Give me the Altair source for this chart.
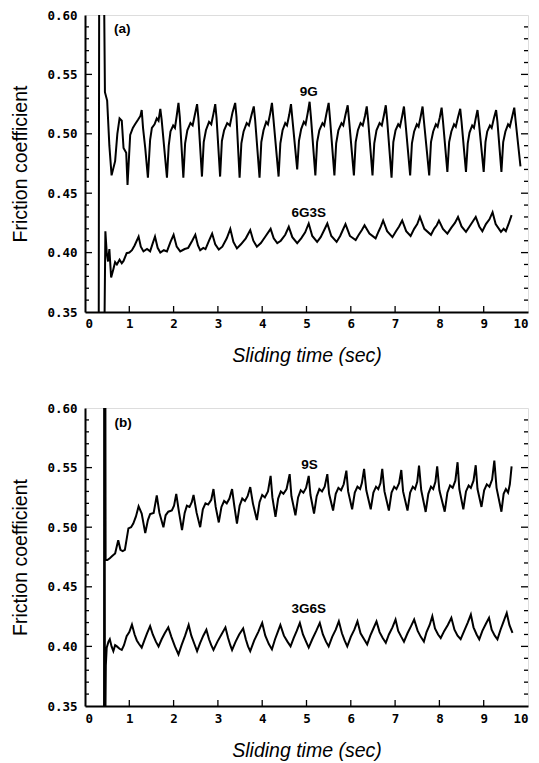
import altair as alt
import pandas as pd

# ---------------- data ----------------
# Panel (a): 9G
t_9G = [0.31, 0.32, 0.43, 0.45, 0.50, 0.55, 0.60, 0.68, 0.73, 0.78, 0.83, 0.87, 0.93, 0.96, 1.02, 1.08, 1.13, 1.20, 1.25, 1.28, 1.31, 1.36, 1.42,
        1.47, 1.51, 1.57, 1.62, 1.66, 1.70, 1.73, 1.85,
        1.89, 1.93, 1.99, 2.03, 2.07, 2.11, 2.14, 2.22,
        2.26, 2.31, 2.38, 2.43, 2.48, 2.53, 2.56, 2.64,
        2.68, 2.73, 2.80, 2.85, 2.90, 2.94, 2.97, 3.05,
        3.09, 3.14, 3.21, 3.27, 3.33, 3.39, 3.42, 3.49,
        3.53, 3.58, 3.65, 3.70, 3.76, 3.81, 3.84, 3.94,
        3.98, 4.03, 4.09, 4.13, 4.18, 4.22, 4.25, 4.37,
        4.41, 4.46, 4.52, 4.56, 4.61, 4.65, 4.68, 4.79,
        4.83, 4.88, 4.94, 4.98, 5.03, 5.07, 5.10, 5.20,
        5.24, 5.29, 5.36, 5.40, 5.45, 5.50, 5.53, 5.63,
        5.67, 5.72, 5.79, 5.83, 5.88, 5.93, 5.96, 6.07,
        6.11, 6.16, 6.22, 6.27, 6.32, 6.36, 6.39, 6.49,
        6.53, 6.58, 6.65, 6.70, 6.75, 6.79, 6.82, 6.92,
        6.96, 7.01, 7.07, 7.11, 7.16, 7.20, 7.23, 7.34,
        7.38, 7.43, 7.49, 7.53, 7.58, 7.62, 7.65, 7.77,
        7.81, 7.86, 7.92, 7.96, 8.01, 8.05, 8.08, 8.18,
        8.22, 8.27, 8.33, 8.37, 8.42, 8.47, 8.50, 8.60,
        8.64, 8.68, 8.74, 8.78, 8.82, 8.86, 8.89, 9.00,
        9.04, 9.08, 9.14, 9.18, 9.23, 9.28, 9.31, 9.40,
        9.44, 9.49, 9.55, 9.59, 9.64, 9.69, 9.72, 9.83]
v_9G = [0.34, 0.62, 0.62, 0.535, 0.528, 0.490, 0.465, 0.477, 0.500, 0.513, 0.511, 0.488, 0.484, 0.457, 0.499, 0.505, 0.508, 0.512, 0.515, 0.520, 0.505, 0.488, 0.463,
        0.495, 0.505, 0.508, 0.513, 0.511, 0.521, 0.512, 0.463,
        0.490, 0.502, 0.507, 0.505, 0.515, 0.526, 0.514, 0.463,
        0.492, 0.503, 0.509, 0.507, 0.516, 0.525, 0.513, 0.464,
        0.493, 0.503, 0.510, 0.508, 0.517, 0.525, 0.513, 0.464,
        0.494, 0.503, 0.509, 0.507, 0.518, 0.526, 0.514, 0.463,
        0.492, 0.502, 0.509, 0.507, 0.516, 0.523, 0.512, 0.463,
        0.493, 0.503, 0.510, 0.508, 0.517, 0.526, 0.514, 0.464,
        0.492, 0.503, 0.509, 0.507, 0.516, 0.525, 0.513, 0.470,
        0.494, 0.504, 0.510, 0.508, 0.518, 0.527, 0.514, 0.465,
        0.493, 0.503, 0.509, 0.507, 0.517, 0.526, 0.513, 0.465,
        0.492, 0.503, 0.509, 0.507, 0.516, 0.524, 0.512, 0.465,
        0.493, 0.503, 0.509, 0.507, 0.515, 0.523, 0.512, 0.465,
        0.492, 0.503, 0.509, 0.507, 0.516, 0.524, 0.512, 0.463,
        0.493, 0.503, 0.508, 0.506, 0.515, 0.523, 0.511, 0.465,
        0.492, 0.502, 0.508, 0.506, 0.515, 0.523, 0.511, 0.465,
        0.493, 0.502, 0.508, 0.506, 0.514, 0.522, 0.511, 0.468,
        0.493, 0.502, 0.508, 0.506, 0.514, 0.521, 0.510, 0.468,
        0.492, 0.501, 0.507, 0.505, 0.513, 0.520, 0.510, 0.468,
        0.493, 0.502, 0.507, 0.505, 0.513, 0.520, 0.510, 0.468,
        0.493, 0.502, 0.508, 0.506, 0.514, 0.522, 0.511, 0.4725]

# Panel (a): 6G3S
t_6G3S = [0.44, 0.46, 0.49, 0.52, 0.55, 0.59, 0.64, 0.68, 0.72, 0.78, 0.83, 0.87, 0.94, 1.00, 1.06, 1.12, 1.21, 1.26, 1.32, 1.40, 1.47, 1.53, 1.58,
          1.64, 1.70, 1.78, 1.85, 1.93, 2.00, 2.07, 2.15, 2.25, 2.33, 2.42, 2.49, 2.55, 2.60, 2.67, 2.72, 2.80, 2.87, 2.94, 3.02,
          3.10, 3.20, 3.28, 3.35, 3.43, 3.52, 3.63, 3.73, 3.80, 3.88, 3.97, 4.08, 4.19, 4.26, 4.34, 4.42, 4.52, 4.60, 4.68, 4.79,
          4.88, 4.97, 5.05, 5.13, 5.24, 5.32, 5.40, 5.47, 5.56, 5.68, 5.76, 5.82, 5.88, 5.98, 6.11, 6.18, 6.25, 6.31, 6.42, 6.56,
          6.63, 6.68, 6.73, 6.82, 6.94, 7.02, 7.09, 7.16, 7.25, 7.35, 7.43, 7.50, 7.56, 7.66, 7.81, 7.88, 7.94, 7.99, 8.08, 8.18,
          8.27, 8.35, 8.42, 8.50, 8.60, 8.68, 8.75, 8.82, 8.90, 8.97, 9.05, 9.13, 9.20, 9.27, 9.39, 9.45, 9.50, 9.57, 9.63]
v_6G3S = [0.34, 0.418, 0.400, 0.3925, 0.403, 0.379, 0.386, 0.392, 0.390, 0.394, 0.391, 0.393, 0.3995, 0.400, 0.402, 0.406, 0.4135, 0.405, 0.401, 0.403, 0.401, 0.408, 0.4135,
          0.404, 0.400, 0.402, 0.401, 0.409, 0.415, 0.405, 0.401, 0.403, 0.404, 0.410, 0.415, 0.406, 0.402, 0.404, 0.403, 0.410, 0.416, 0.407, 0.4025,
          0.405, 0.412, 0.420, 0.409, 0.4035, 0.407, 0.412, 0.419, 0.410, 0.405, 0.408, 0.414, 0.420, 0.412, 0.408, 0.410, 0.415, 0.4217, 0.413, 0.408,
          0.412, 0.417, 0.4245, 0.414, 0.409, 0.413, 0.419, 0.4245, 0.414, 0.409, 0.414, 0.419, 0.424, 0.414, 0.4105, 0.415, 0.419, 0.423, 0.416, 0.412,
          0.418, 0.422, 0.427, 0.418, 0.413, 0.418, 0.422, 0.427, 0.418, 0.414, 0.420, 0.424, 0.430, 0.420, 0.415, 0.420, 0.423, 0.427, 0.420, 0.416,
          0.421, 0.425, 0.430, 0.422, 0.4175, 0.422, 0.426, 0.430, 0.422, 0.418, 0.424, 0.428, 0.434, 0.424, 0.4175, 0.420, 0.418, 0.425, 0.4315]

# Panel (b): 9S
t_9S = [0.43, 0.435, 0.46, 0.465, 0.505, 0.56, 0.62, 0.68, 0.75, 0.80, 0.85, 0.90, 0.98, 1.04, 1.09, 1.15, 1.21, 1.28, 1.36, 1.42, 1.47, 1.55, 1.62,
        1.68, 1.77, 1.82, 1.88, 1.96, 2.01, 2.06, 2.12, 2.19, 2.25, 2.30, 2.36, 2.41, 2.45, 2.52, 2.60, 2.66, 2.72, 2.78, 2.85, 2.90,
        2.95, 3.02, 3.08, 3.14, 3.20, 3.26, 3.32, 3.37, 3.43, 3.49, 3.55, 3.61, 3.67, 3.73, 3.79, 3.88, 3.94, 4.00, 4.06, 4.13, 4.19,
        4.23, 4.30, 4.36, 4.42, 4.48, 4.55, 4.62, 4.66, 4.75, 4.81, 4.87, 4.93, 4.99, 5.05, 5.09, 5.17, 5.23, 5.29, 5.35, 5.41, 5.47,
        5.51, 5.60, 5.66, 5.72, 5.78, 5.84, 5.90, 5.94, 6.03, 6.09, 6.15, 6.21, 6.25, 6.30, 6.35, 6.45, 6.51, 6.57, 6.62, 6.67, 6.71,
        6.76, 6.86, 6.92, 6.98, 7.03, 7.09, 7.14, 7.18, 7.28, 7.34, 7.40, 7.45, 7.50, 7.54, 7.59, 7.69, 7.75, 7.81, 7.86, 7.91, 7.95,
        8.00, 8.12, 8.18, 8.24, 8.30, 8.36, 8.41, 8.45, 8.54, 8.60, 8.66, 8.71, 8.77, 8.82, 8.86, 8.95, 9.01, 9.07, 9.13, 9.19, 9.24,
        9.29, 9.40, 9.45, 9.50, 9.55, 9.59, 9.63]
v_9S = [0.34, 0.62, 0.62, 0.4725, 0.4725, 0.474, 0.476, 0.478, 0.489, 0.481, 0.480, 0.481, 0.499, 0.500, 0.503, 0.509, 0.5175, 0.5115, 0.495, 0.506, 0.511, 0.512, 0.5267,
        0.512, 0.500, 0.510, 0.513, 0.514, 0.518, 0.528, 0.513, 0.4975, 0.512, 0.518, 0.517, 0.521, 0.527, 0.512, 0.500, 0.515, 0.520, 0.519, 0.523, 0.532,
        0.517, 0.504, 0.517, 0.522, 0.520, 0.524, 0.532, 0.518, 0.503, 0.518, 0.524, 0.522, 0.526, 0.5336, 0.520, 0.506, 0.521, 0.527, 0.525, 0.530, 0.543,
        0.525, 0.5086, 0.524, 0.530, 0.528, 0.532, 0.5445, 0.526, 0.510, 0.525, 0.531, 0.529, 0.533, 0.543, 0.527, 0.5114, 0.526, 0.532, 0.530, 0.534, 0.5445,
        0.528, 0.514, 0.528, 0.533, 0.531, 0.536, 0.5475, 0.530, 0.515, 0.529, 0.534, 0.532, 0.537, 0.549, 0.531, 0.515, 0.529, 0.534, 0.532, 0.537, 0.549,
        0.530, 0.514, 0.529, 0.534, 0.532, 0.537, 0.548, 0.530, 0.514, 0.529, 0.534, 0.532, 0.538, 0.5517, 0.531, 0.5128, 0.528, 0.534, 0.532, 0.538, 0.551,
        0.531, 0.513, 0.529, 0.535, 0.533, 0.539, 0.5545, 0.532, 0.515, 0.530, 0.535, 0.533, 0.539, 0.552, 0.532, 0.517, 0.531, 0.536, 0.534, 0.540, 0.5558,
        0.533, 0.513, 0.528, 0.532, 0.529, 0.536, 0.551]

# Panel (b): 3G6S
t_3G6S = [0.44, 0.45, 0.46, 0.47, 0.49, 0.53, 0.56, 0.60, 0.64, 0.68, 0.72, 0.78, 0.83, 0.88, 0.94, 1.00, 1.06, 1.12, 1.17, 1.22, 1.28, 1.34, 1.40, 1.47,
          1.53, 1.60, 1.66, 1.73, 1.80, 1.88, 1.95, 2.03, 2.11, 2.18, 2.26, 2.34, 2.40, 2.47, 2.53, 2.60, 2.67, 2.74, 2.80, 2.85, 2.90,
          2.99, 3.08, 3.17, 3.23, 3.28, 3.32, 3.40, 3.48, 3.57, 3.63, 3.68, 3.73, 3.82, 3.91, 4.00, 4.07, 4.15, 4.22, 4.29, 4.35, 4.41,
          4.49, 4.57, 4.64, 4.71, 4.78, 4.85, 4.92, 4.99, 5.05, 5.13, 5.22, 5.30, 5.37, 5.44, 5.50, 5.58, 5.66, 5.73, 5.80, 5.86, 5.92,
          6.00, 6.08, 6.15, 6.22, 6.30, 6.37, 6.44, 6.51, 6.58, 6.65, 6.72, 6.79, 6.86, 6.94, 7.01, 7.07, 7.14, 7.20, 7.28, 7.36, 7.43,
          7.51, 7.58, 7.65, 7.71, 7.78, 7.84, 7.90, 7.97, 8.03, 8.11, 8.19, 8.27, 8.34, 8.41, 8.48, 8.56, 8.64, 8.71, 8.77, 8.84, 8.90,
          8.97, 9.05, 9.12, 9.18, 9.25, 9.31, 9.38, 9.45, 9.52, 9.58, 9.65]
v_3G6S = [0.62, 0.34, 0.34, 0.384, 0.399, 0.404, 0.406, 0.400, 0.396, 0.401, 0.400, 0.398, 0.397, 0.401, 0.4086, 0.412, 0.4183, 0.410, 0.405, 0.402, 0.399, 0.405, 0.411, 0.417,
          0.410, 0.404, 0.400, 0.406, 0.411, 0.416, 0.408, 0.400, 0.3933, 0.401, 0.409, 0.418, 0.409, 0.402, 0.396, 0.403, 0.409, 0.414, 0.406, 0.401, 0.397,
          0.404, 0.410, 0.416, 0.407, 0.401, 0.397, 0.404, 0.410, 0.415, 0.406, 0.400, 0.396, 0.405, 0.412, 0.4197, 0.409, 0.402, 0.3975, 0.406, 0.412, 0.418,
          0.409, 0.404, 0.400, 0.407, 0.413, 0.4197, 0.410, 0.404, 0.399, 0.406, 0.413, 0.4197, 0.410, 0.404, 0.400, 0.408, 0.414, 0.421, 0.411, 0.405, 0.400,
          0.408, 0.414, 0.421, 0.411, 0.406, 0.4017, 0.409, 0.415, 0.421, 0.412, 0.407, 0.403, 0.410, 0.416, 0.4225, 0.413, 0.408, 0.404, 0.411, 0.417, 0.4225,
          0.413, 0.408, 0.404, 0.412, 0.418, 0.4253, 0.415, 0.410, 0.407, 0.413, 0.418, 0.424, 0.414, 0.409, 0.406, 0.413, 0.420, 0.4267, 0.416, 0.410, 0.406,
          0.413, 0.419, 0.424, 0.414, 0.409, 0.406, 0.414, 0.421, 0.428, 0.418, 0.4114]

# Curve labels: text, t, v
labels_a = [("9G", 5.05, 0.535), ("6G3S", 5.05, 0.433), ("(a)", 0.84, 0.588)]
labels_b = [("9S", 5.07, 0.552), ("3G6S", 5.05, 0.431), ("(b)", 0.86, 0.5875)]

y_major = [0.35, 0.40, 0.45, 0.50, 0.55, 0.60]
y_minor = [0.36, 0.37, 0.38, 0.39, 0.41, 0.42, 0.43, 0.44, 0.46, 0.47, 0.48, 0.49,
           0.51, 0.52, 0.53, 0.54, 0.56, 0.57, 0.58, 0.59]
x_major = [0, 1, 2, 3, 4, 5, 6, 7, 8, 9, 10]

W = 443
LABEL_FONT = "DejaVu Sans Mono"
TITLE_FONT = "Liberation Sans"


def panel(series, labels, h, xlabel_pad, xtitle_pad):
    rows = []
    for name, ts, vs in series:
        for i, (t, v) in enumerate(zip(ts, vs)):
            rows.append({"t": t, "v": v, "series": name, "order": i})
    df = pd.DataFrame(rows)
    xs = alt.Scale(domain=[0, 10], nice=False, zero=False)
    ys = alt.Scale(domain=[0.35, 0.60], nice=False, zero=False)

    lines = alt.Chart(df).mark_line(color="black", strokeWidth=2.0, clip=True).encode(
        x=alt.X("t:Q", scale=xs, axis=alt.Axis(
            values=x_major, format="d", title="Sliding time (sec)", titleFontStyle="italic",
            titleFont=TITLE_FONT, titleFontSize=19.5, titleFontWeight="normal", titlePadding=xtitle_pad,
            labelFont=LABEL_FONT, labelFontWeight="bold", labelFontSize=12.5, labelPadding=xlabel_pad,
            ticks=False, tickSize=0, grid=False, domainColor="black", domainWidth=2,
            labelColor="black", titleColor="black")),
        y=alt.Y("v:Q", scale=ys, axis=alt.Axis(
            values=y_major, format=".2f", title="Friction coefficient",
            titleFont=TITLE_FONT, titleFontSize=19.5, titleFontWeight="normal", titlePadding=16,
            labelFont=LABEL_FONT, labelFontWeight="bold", labelFontSize=12.5, labelPadding=8,
            ticks=False, tickSize=0, grid=False, domainColor="black", domainWidth=2,
            labelColor="black", titleColor="black")),
        detail="series:N",
        order="order:Q",
    )

    ldf = pd.DataFrame(labels, columns=["text", "t", "v"])
    txt = alt.Chart(ldf).mark_text(font=TITLE_FONT, fontSize=13.5, fontWeight="bold", color="black").encode(
        x=alt.X("t:Q", scale=xs), y=alt.Y("v:Q", scale=ys), text="text:N")

    ymaj = pd.DataFrame({"v": y_major[1:-1]})
    ymin = pd.DataFrame({"v": y_minor})
    xmaj = pd.DataFrame({"t": x_major[1:-1]})
    tick_style = dict(color="black", strokeWidth=1.3)
    lmaj = alt.Chart(ymaj).mark_rule(**tick_style).encode(y=alt.Y("v:Q", scale=ys), x=alt.value(0), x2=alt.value(7))
    lmin = alt.Chart(ymin).mark_rule(**tick_style).encode(y=alt.Y("v:Q", scale=ys), x=alt.value(0), x2=alt.value(4))
    rmaj = alt.Chart(ymaj).mark_rule(**tick_style).encode(y=alt.Y("v:Q", scale=ys), x=alt.value(W), x2=alt.value(W - 7))
    rmin = alt.Chart(ymin).mark_rule(**tick_style).encode(y=alt.Y("v:Q", scale=ys), x=alt.value(W), x2=alt.value(W - 4))
    bmaj = alt.Chart(xmaj).mark_rule(**tick_style).encode(x=alt.X("t:Q", scale=xs), y=alt.value(h), y2=alt.value(h - 6))

    return alt.layer(lines, txt, lmaj, lmin, rmaj, rmin, bmaj).properties(width=W, height=h)


pa = panel([("9G", t_9G, v_9G), ("6G3S", t_6G3S, v_6G3S)], labels_a, 297, 5, 17)
pb = panel([("9S", t_9S, v_9S), ("3G6S", t_3G6S, v_3G6S)], labels_b, 298, 6, 17)

chart = alt.vconcat(pa, pb, spacing=35).properties(
    padding={"left": 2, "top": 0, "right": 0, "bottom": 0}
).configure_view(
    stroke="black", strokeWidth=2
).configure(background="white")

chart.save("out.html", embed_options={"renderer": "svg", "actions": False})
